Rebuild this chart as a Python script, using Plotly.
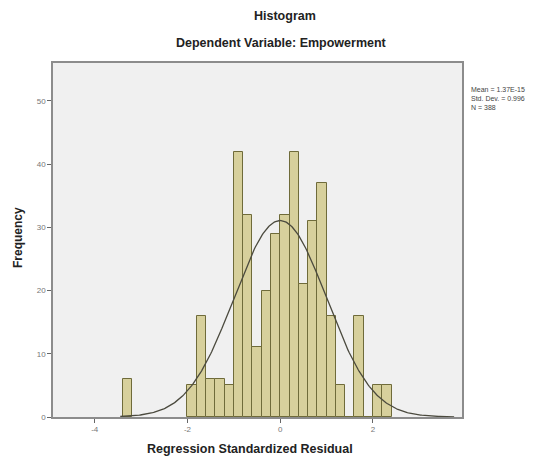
import numpy as np
import plotly.graph_objects as go

# Histogram bins (lower edges) and frequencies
bin_starts = [-3.4, -2.0, -1.8, -1.6, -1.4, -1.2, -1.0, -0.8, -0.6, -0.4, -0.2,
              0.0, 0.2, 0.4, 0.6, 0.8, 1.0, 1.2, 1.4, 1.6, 1.8, 2.0, 2.2]
frequencies = [6, 5, 16, 6, 6, 5, 42, 32, 11, 20, 29,
               32, 42, 21, 31, 37, 16, 5, 0, 16, 0, 5, 5]
bin_width = 0.2

# Summary statistics shown in the chart
stat_mean = 1.37e-15
stat_sd = 0.996
stat_n = 388

x_ticks = [-4, -2, 0, 2]
y_ticks = [0, 10, 20, 30, 40, 50]

centers = [b + bin_width / 2 for b in bin_starts]

fig = go.Figure()
fig.add_trace(go.Bar(
    x=centers, y=frequencies, width=bin_width,
    marker=dict(color="#d7d09c", line=dict(color="#6f6b3a", width=1)),
    hoverinfo="x+y", showlegend=False,
))

# Fitted normal curve from the stated mean, std. dev. and N
xc = np.linspace(-3.45, 3.75, 300)
yc = stat_n * bin_width / (stat_sd * np.sqrt(2 * np.pi)) * np.exp(-0.5 * ((xc - stat_mean) / stat_sd) ** 2)
fig.add_trace(go.Scatter(x=xc, y=yc, mode="lines",
                         line=dict(color="#4b4a3e", width=1.3), showlegend=False,
                         hoverinfo="skip"))

# The page body has an 8px margin, so the figure is placed at (8, 8) in the window
OFF = 8
W, H = 553 - OFF, 459 - OFF
# target plot box in window pixels: left 53, right 462, top 63, bottom 417
L = 53 - OFF
T = 63 - OFF
R = W - (462 - OFF)
B = H - (417 - OFF)
pw = W - L - R
ph = H - T - B

def px_to_paper_x(px):
    return (px - OFF - L) / pw

def py_to_paper_y(py):
    return (H - B - (py - OFF)) / ph

font_family = "Liberation Sans, Arial, sans-serif"

annotations = [
    dict(text="<b>Histogram</b>", x=px_to_paper_x(285), y=py_to_paper_y(16),
         xref="paper", yref="paper", showarrow=False, xanchor="center", yanchor="middle",
         font=dict(size=12.5, color="#222", family=font_family)),
    dict(text="<b>Dependent Variable: Empowerment</b>", x=px_to_paper_x(281), y=py_to_paper_y(43),
         xref="paper", yref="paper", showarrow=False, xanchor="center", yanchor="middle",
         font=dict(size=12.5, color="#222", family=font_family)),
    dict(text="<b>Regression Standardized Residual</b>", x=px_to_paper_x(250), y=py_to_paper_y(449),
         xref="paper", yref="paper", showarrow=False, xanchor="center", yanchor="middle",
         font=dict(size=12.5, color="#222", family=font_family)),
    dict(text="<b>Frequency</b>", x=px_to_paper_x(18), y=py_to_paper_y(238), textangle=-90,
         xref="paper", yref="paper", showarrow=False, xanchor="center", yanchor="middle",
         font=dict(size=12, color="#222", family=font_family)),
    dict(text=f"Mean = {stat_mean:.2E}<br>Std. Dev. = {stat_sd:.3f}<br>N = {stat_n}",
         x=px_to_paper_x(469), y=py_to_paper_y(84), align="left",
         xref="paper", yref="paper", showarrow=False, xanchor="left", yanchor="top",
         font=dict(size=7, color="#444", family=font_family)),
]

fig.update_layout(
    width=W, height=H,
    margin=dict(l=L, r=R, t=T, b=B),
    paper_bgcolor="white", plot_bgcolor="#f0f0f0",
    bargap=0, annotations=annotations,
    font=dict(family=font_family),
)
fig.update_xaxes(range=[-4.9, 3.92], tickvals=x_ticks, ticktext=[str(t) for t in x_ticks],
                 showgrid=False, zeroline=False, showline=True, linecolor="#8c8c8c", linewidth=1.5,
                 mirror=True, ticks="outside", ticklen=4, tickcolor="#666",
                 tickfont=dict(size=8, color="#777"))
fig.update_yaxes(range=[0, 56], tickvals=y_ticks,
                 showgrid=False, zeroline=False, showline=True, linecolor="#8c8c8c", linewidth=1.5,
                 mirror=True, ticks="outside", ticklen=4, tickcolor="#666",
                 tickfont=dict(size=8, color="#777"))

fig.write_html("out.html")
